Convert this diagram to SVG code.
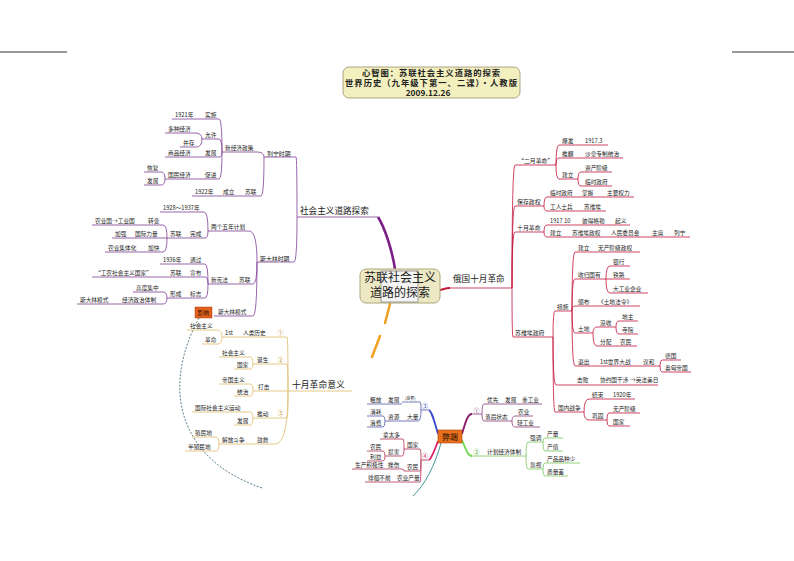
<svg xmlns="http://www.w3.org/2000/svg" width="794" height="561" viewBox="0 0 794 561">
<style>
.t{font-family:"Noto Sans CJK SC","Noto Sans",sans-serif;font-size:5.7px;fill:#222}
.m{font-size:5.9px}
.b{font-size:8.6px}
.n{font-size:6px}
.h{font-size:8.3px;font-weight:bold}
.lp{fill:none;stroke:#7d3f96;stroke-width:.8}
.lr{fill:none;stroke:#c3143c;stroke-width:.8}
.ly{fill:none;stroke:#e3c27a;stroke-width:.9}
.lm{fill:none;stroke:#8c3c7c;stroke-width:.8}
.lg{fill:none;stroke:#78c85a;stroke-width:.8}
.lb{fill:none;stroke:#5058a8;stroke-width:.8}
.ld{fill:none;stroke:#b03050;stroke-width:.8}
</style>
<rect width="794" height="561" fill="#fff"/>
<path d="M0 52H67M732 52H794" stroke="#333" stroke-width="1"/>
<g id="title">
<rect x="343" y="67" width="177" height="31" rx="6" fill="#f3efbe" stroke="#9a9070" stroke-width="0.8"/>
<text class="t h" x="431" y="75.5" text-anchor="middle" textLength="138">心智图：苏联社会主义道路的探索</text>
<text class="t h" x="431" y="85.5" text-anchor="middle" textLength="172">世界历史（九年级下第一、二课）・人教版</text>
<text class="t h" x="428" y="95.5" text-anchor="middle">2009.12.26</text>
</g>
<g id="connectors">
<path d="M395 269C392 250 385 228 378 217" fill="none" stroke="#7b1f86" stroke-width="2.6"/>
<path d="M440 290C444 289 446 288 450 288" fill="none" stroke="#c41e3a" stroke-width="2"/>
<path d="M390 304L385 323M380 336L372 357" fill="none" stroke="#f2a020" stroke-width="2.5" stroke-linecap="round"/>
<path d="M462 434C466 420 468 414 472 414" fill="none" stroke="#8a1a6a" stroke-width="1.8"/>
<path d="M462 440C466 450 468 456 472 456" fill="none" stroke="#6ed64a" stroke-width="1.8"/>
<path d="M438 434C434 420 432 412 429 410" fill="none" stroke="#3a48d0" stroke-width="1.8"/>
<path d="M438 441C434 452 432 458 429 460" fill="none" stroke="#e0206a" stroke-width="1.8"/>
<path d="M441 443C435 465 425 485 413 496" fill="none" stroke="#2a8a8a" stroke-width="0.9"/>
<path d="M199 318C160 390 180 460 262 488" fill="none" stroke="#2f5f6f" stroke-width="0.8" stroke-dasharray="2 1.5"/>
<path class="lp" d="M296 157Q297 157 297 217M294 262Q297 262 297 217M257 152Q264 152 264 157M261 196Q264 196 264 157M219 119Q222 119 222 152M219 139Q222 139 222 152M219 157Q222 157 222 152M219 179Q222 179 222 152M195 133Q202 133 202 139M196 147Q202 147 202 139M161 172Q165 172 165 179M161 185Q165 185 165 179M249 231Q257 231 257 262M204 212Q208 212 208 231M205 238Q208 238 208 231M163 225Q167 225 167 238M163 252Q167 252 167 238M253 284Q257 284 257 262M205 264Q208 264 208 284M205 277Q208 277 208 284M205 298Q208 298 208 284M163 292Q167 292 167 298M163 304Q167 304 167 298M253 316Q257 316 257 262"/>
<path class="ly" d="M287 337Q288 337 288 391M287 364Q288 364 288 391M275 391H288M287 418Q288 418 288 391M275 444Q288 444 288 391M218 330Q222 330 222 337M218 344Q222 344 222 337M250 357Q253 357 253 364M250 369Q253 369 253 364M250 384Q253 384 253 391M250 396Q253 396 253 391M250 412Q253 412 253 418M250 425Q253 425 253 418M216 437Q219 437 219 444M216 451Q219 451 219 444"/>
<path class="lr" d="M515 165Q512 165 512 288M515 206Q512 206 512 288M515 232Q512 232 512 288M513 337Q512 337 512 288M559 145Q556 145 556 165M559 158Q556 158 556 165M559 179Q556 179 556 165M581 172Q578 172 578 179M581 186Q578 186 578 179M547 197Q544 197 544 206M547 211Q544 211 544 206M547 225Q544 225 544 232M547 237Q544 237 544 232M555 311Q553 311 553 337M575 252Q572 252 572 311M575 279Q572 279 572 311M575 306Q572 306 572 311M575 333Q572 333 572 311M575 366Q572 366 572 311M610 266Q606 266 606 279M610 293Q606 293 606 279M597 327Q593 327 593 333M597 346Q593 346 593 333M619 321Q616 321 616 327M619 334Q616 334 616 327M662 360Q660 360 660 366M662 372Q660 372 660 366M556 385Q553 385 553 337M555 412Q553 412 553 337M589 399Q584 399 584 412M589 420Q584 420 584 412M609 413Q607 413 607 420M609 426Q607 426 607 420"/>
<path class="lm" d="M484 404Q482 404 482 414M484 421Q482 421 482 414M515 416Q512 416 512 421M515 427Q512 427 512 421"/>
<path class="lg" d="M528 442Q526 442 526 456M528 469Q526 469 526 456M545 438Q543 438 543 442M545 451Q543 451 543 442M545 463Q543 463 543 469M545 476Q543 476 543 469"/>
<path class="lb" d="M420 402Q421 402 421 410M418 421Q421 421 421 410M383 416Q385 416 385 421M383 427Q385 427 385 421"/>
<path class="ld" d="M420 449Q421 449 421 460M420 471Q421 471 421 460M420 482Q421 482 421 460M403 439Q404 439 404 449M402 456Q404 456 404 449M383 451Q385 451 385 456M383 461Q385 461 385 456M402 469Q404 469 404 471"/>
</g>
<g id="center">
<rect x="360" y="269" width="80" height="34" rx="6" fill="#ece8c4" stroke="#b0a878" stroke-width="1"/>
<rect x="381" y="271" width="37" height="31" fill="#f4f4f4" stroke="#888" stroke-width="0.8"/>
<text class="t" x="400" y="282" text-anchor="middle" style="font-size:12px">苏联社会主义</text>
<text class="t" x="400" y="297" text-anchor="middle" style="font-size:12px">道路的探索</text>
</g>
<g id="n-shehui"><text class="t b" x="300" y="214">社会主义道路探索</text><path class="lp" d="M297 217H378"/></g>
<g id="n-liening"><text class="t m" x="267" y="155.5">列宁时期</text><path class="lp" d="M264 157H296"/></g>
<g id="n-xinjingji"><text class="t" x="225" y="150">新经济政策</text><path class="lp" d="M222 152H257"/></g>
<g id="n-shishi"><text class="t" x="205" y="117">实施</text><path class="lp" d="M202 119H219"/></g>
<g id="n-1921"><text class="t" x="175" y="117">1921年</text><path class="lp" d="M172 119H202"/></g>
<g id="n-yunxu"><text class="t" x="205" y="137">允许</text><path class="lp" d="M202 139H219"/></g>
<g id="n-duozhong"><text class="t" x="168" y="131">多种经济</text><path class="lp" d="M165 133H195"/></g>
<g id="n-bingcun"><text class="t" x="183" y="145">并存</text><path class="lp" d="M180 147H196"/></g>
<g id="n-fazhan1"><text class="t" x="205" y="155">发展</text><path class="lp" d="M202 157H219"/></g>
<g id="n-shangpin"><text class="t" x="168" y="155">商品经济</text><path class="lp" d="M165 157H202"/></g>
<g id="n-cujin"><text class="t" x="205" y="177">促进</text><path class="lp" d="M202 179H219"/></g>
<g id="n-guomin"><text class="t" x="168" y="177">国民经济</text><path class="lp" d="M165 179H202"/></g>
<g id="n-huifu"><text class="t" x="147" y="170">恢复</text><path class="lp" d="M144 172H161"/></g>
<g id="n-fazhan2"><text class="t" x="147" y="183">发展</text><path class="lp" d="M144 185H161"/></g>
<g id="n-sulian1"><text class="t" x="245" y="194">苏联</text><path class="lp" d="M242 196H261"/></g>
<g id="n-chengli"><text class="t" x="223" y="194">成立</text><path class="lp" d="M220 196H242"/></g>
<g id="n-1922"><text class="t" x="195" y="194">1922年</text><path class="lp" d="M192 196H220"/></g>
<g id="n-sidalin"><text class="t m" x="260" y="260.5">斯大林时期</text><path class="lp" d="M257 262H294"/></g>
<g id="n-wunian"><text class="t" x="211" y="229">两个五年计划</text><path class="lp" d="M208 231H249"/></g>
<g id="n-1928"><text class="t" x="163" y="210">1928～1937年</text><path class="lp" d="M160 212H204"/></g>
<g id="n-wancheng"><text class="t" x="190" y="236">完成</text><path class="lp" d="M187 238H205"/></g>
<g id="n-sulian2"><text class="t" x="170" y="236">苏联</text><path class="lp" d="M167 238H187"/></g>
<g id="n-zhuanbian"><text class="t" x="148" y="223">转变</text><path class="lp" d="M145 225H163"/></g>
<g id="n-nongyeguo"><text class="t" x="95" y="223">农业国→工业国</text><path class="lp" d="M92 225H145"/></g>
<g id="n-guoji"><text class="t" x="135" y="236">国际力量</text><path class="lp" d="M132 238H167"/></g>
<g id="n-jiaqiang"><text class="t" x="115" y="236">加强</text><path class="lp" d="M112 238H132"/></g>
<g id="n-jiakuai"><text class="t" x="148" y="250">加快</text><path class="lp" d="M145 252H163"/></g>
<g id="n-jitihua"><text class="t" x="108" y="250">农业集体化</text><path class="lp" d="M105 252H145"/></g>
<g id="n-sulian3"><text class="t" x="239" y="282">苏联</text><path class="lp" d="M236 284H253"/></g>
<g id="n-xianfa"><text class="t" x="211" y="282">新宪法</text><path class="lp" d="M208 284H236"/></g>
<g id="n-tongguo"><text class="t" x="190" y="262">通过</text><path class="lp" d="M187 264H205"/></g>
<g id="n-1936"><text class="t" x="163" y="262">1936年</text><path class="lp" d="M160 264H187"/></g>
<g id="n-xuanbu"><text class="t" x="190" y="275">宣布</text><path class="lp" d="M187 277H205"/></g>
<g id="n-sulian4"><text class="t" x="170" y="275">苏联</text><path class="lp" d="M167 277H187"/></g>
<g id="n-gongnong"><text class="t" x="95" y="275">“工农社会主义国家”</text><path class="lp" d="M92 277H167"/></g>
<g id="n-biaozhi"><text class="t" x="190" y="296">标志</text><path class="lp" d="M187 298H205"/></g>
<g id="n-xingcheng"><text class="t" x="170" y="296">形成</text><path class="lp" d="M167 298H187"/></g>
<g id="n-gaodu"><text class="t" x="136" y="290">高度集中</text><path class="lp" d="M133 292H163"/></g>
<g id="n-tizhi"><text class="t" x="122" y="302">经济政治体制</text><path class="lp" d="M119 304H163"/></g>
<g id="n-moshi1"><text class="t" x="80" y="302">斯大林模式</text><path class="lp" d="M77 304H119"/></g>
<g id="n-moshi2"><text class="t" x="218" y="314">斯大林模式</text><path class="lp" d="M214 316H253"/></g>
<g id="n-yingxiang"><rect x="195" y="307" width="17" height="11" fill="#e0601c" stroke="#b04010" stroke-width="0.5"/><text class="t" x="197.5" y="314.5" style="fill:#2a1000">影响</text></g>
<g id="n-yiyi"><text class="t" x="292" y="388" style="font-size:8.8px">十月革命意义</text><path class="ly" d="M288 391H352"/></g>
<g id="n-renlei"><text class="t" x="243" y="335">人类历史</text><text class="t n" x="277.5" y="335" style="fill:#c89030">①</text><path class="ly" d="M240 337H287"/></g>
<g id="n-1st"><text class="t" x="225" y="335">1st</text><path class="ly" d="M222 337H240"/></g>
<g id="n-shzy1"><text class="t" x="190" y="328">社会主义</text><path class="ly" d="M187 330H218"/></g>
<g id="n-geming"><text class="t" x="205" y="342">革命</text><path class="ly" d="M202 344H218"/></g>
<g id="n-dansheng"><text class="t" x="257" y="362">诞生</text><text class="t n" x="277.5" y="362" style="fill:#c89030">②</text><path class="ly" d="M253 364H287"/></g>
<g id="n-shzy2"><text class="t" x="222" y="355">社会主义</text><path class="ly" d="M219 357H250"/></g>
<g id="n-guojia1"><text class="t" x="237" y="367">国家</text><path class="ly" d="M234 369H250"/></g>
<g id="n-daji"><text class="t" x="258" y="389">打击</text><path class="ly" d="M253 391H275"/></g>
<g id="n-diguo"><text class="t" x="222" y="382">帝国主义</text><path class="ly" d="M219 384H250"/></g>
<g id="n-tongzhi"><text class="t" x="237" y="394">统治</text><path class="ly" d="M234 396H250"/></g>
<g id="n-tuidong"><text class="t" x="257" y="416">推动</text><text class="t n" x="277.5" y="415" style="fill:#c89030">③</text><path class="ly" d="M253 418H287"/></g>
<g id="n-yundong"><text class="t" x="195" y="410">国际社会主义运动</text><path class="ly" d="M192 412H250"/></g>
<g id="n-fazhan3"><text class="t" x="237" y="423">发展</text><path class="ly" d="M234 425H250"/></g>
<g id="n-guwu"><text class="t" x="257" y="442">鼓舞</text><path class="ly" d="M253 444H275"/></g>
<g id="n-jiefang"><text class="t" x="222" y="442">解放斗争</text><path class="ly" d="M219 444H253"/></g>
<g id="n-zhimin"><text class="t" x="195" y="435">殖民地</text><path class="ly" d="M192 437H216"/></g>
<g id="n-banzhimin"><text class="t" x="188" y="449">半殖民地</text><path class="ly" d="M185 451H216"/></g>
<g id="n-eguo"><text class="t b" x="453" y="282">俄国十月革命</text><path class="lr" d="M448 288H512"/></g>
<g id="n-eryue"><text class="t m" x="518" y="163">“二月革命”</text><path class="lr" d="M515 165H556"/></g>
<g id="n-baofa"><text class="t" x="562" y="143">爆发</text><path class="lr" d="M559 145H578"/></g>
<g id="n-19173"><text class="t" x="585" y="143">1917.3</text><path class="lr" d="M578 145H608"/></g>
<g id="n-tuifan"><text class="t" x="562" y="156">推翻</text><path class="lr" d="M559 158H578"/></g>
<g id="n-shahuang"><text class="t" x="585" y="156">沙皇专制统治</text><path class="lr" d="M578 158H623"/></g>
<g id="n-jianli1"><text class="t" x="562" y="177">建立</text><path class="lr" d="M559 179H578"/></g>
<g id="n-zichan"><text class="t" x="585" y="170">资产阶级</text><path class="lr" d="M581 172H612"/></g>
<g id="n-linshi1"><text class="t" x="585" y="184">临时政府</text><path class="lr" d="M581 186H612"/></g>
<g id="n-baocun"><text class="t m" x="517" y="204">保存政权</text><path class="lr" d="M515 206H544"/></g>
<g id="n-linshi2"><text class="t" x="550" y="195">临时政府</text><path class="lr" d="M547 197H576"/></g>
<g id="n-zhangwo"><text class="t" x="582" y="195">掌握</text><path class="lr" d="M576 197H598"/></g>
<g id="n-quanli"><text class="t" x="607" y="195">主要权力</text><path class="lr" d="M598 197H634"/></g>
<g id="n-gongren"><text class="t" x="550" y="209">工人士兵</text><path class="lr" d="M547 211H576"/></g>
<g id="n-suweiai1"><text class="t" x="584" y="209">苏维埃</text><path class="lr" d="M576 211H606"/></g>
<g id="n-shiyue"><text class="t m" x="517" y="230">十月革命</text><path class="lr" d="M515 232H544"/></g>
<g id="n-191710"><text class="t" x="550" y="223">1917.10</text><path class="lr" d="M547 225H576"/></g>
<g id="n-bide"><text class="t" x="582" y="223">彼得格勒</text><path class="lr" d="M576 225H608"/></g>
<g id="n-qiyi"><text class="t" x="615" y="223">起义</text><path class="lr" d="M608 225H630"/></g>
<g id="n-jianli2"><text class="t" x="550" y="235">建立</text><path class="lr" d="M547 237H566"/></g>
<g id="n-zhengquan"><text class="t" x="572" y="235">苏维埃政权</text><path class="lr" d="M566 237H605"/></g>
<g id="n-renmin"><text class="t" x="611" y="235">人民委员会</text><path class="lr" d="M605 237H644"/></g>
<g id="n-zhuxi"><text class="t" x="652" y="235">主席</text><path class="lr" d="M644 237H668"/></g>
<g id="n-liening2"><text class="t" x="674" y="235">列宁</text><path class="lr" d="M668 237H690"/></g>
<g id="n-zhengfu"><text class="t m" x="515" y="335">苏维埃政府</text><path class="lr" d="M513 337H553"/></g>
<g id="n-cuoshi"><text class="t" x="557" y="309">措施</text><path class="lr" d="M555 311H572"/></g>
<g id="n-jianli3"><text class="t" x="578" y="250">建立</text><path class="lr" d="M575 252H596"/></g>
<g id="n-wuchan1"><text class="t" x="598" y="250">无产阶级政权</text><path class="lr" d="M596 252H640"/></g>
<g id="n-shougui"><text class="t" x="578" y="277">收归国有</text><path class="lr" d="M575 279H606"/></g>
<g id="n-yinhang"><text class="t" x="613" y="264">银行</text><path class="lr" d="M610 266H630"/></g>
<g id="n-tielu"><text class="t" x="613" y="277">铁路</text><path class="lr" d="M606 279H630"/></g>
<g id="n-dagongye"><text class="t" x="613" y="291">大工业企业</text><path class="lr" d="M610 293H648"/></g>
<g id="n-banbu"><text class="t" x="578" y="304">颁布</text><path class="lr" d="M575 306H596"/></g>
<g id="n-tudifaling"><text class="t" x="598" y="304">《土地法令》</text><path class="lr" d="M596 306H640"/></g>
<g id="n-tudi"><text class="t" x="578" y="331">土地</text><path class="lr" d="M575 333H593"/></g>
<g id="n-moshou"><text class="t" x="600" y="325">没收</text><path class="lr" d="M597 327H616"/></g>
<g id="n-dizhu"><text class="t" x="622" y="319">地主</text><path class="lr" d="M619 321H638"/></g>
<g id="n-siyuan"><text class="t" x="622" y="332">寺院</text><path class="lr" d="M619 334H638"/></g>
<g id="n-fenpei"><text class="t" x="600" y="344">分配</text><path class="lr" d="M597 346H616"/></g>
<g id="n-nongmin1"><text class="t" x="620" y="344">农民</text><path class="lr" d="M616 346H637"/></g>
<g id="n-tuichu"><text class="t" x="578" y="364">退出</text><path class="lr" d="M575 366H597"/></g>
<g id="n-dazhan"><text class="t" x="600" y="364">1st世界大战</text><path class="lr" d="M597 366H641"/></g>
<g id="n-yihe"><text class="t" x="643" y="364">议和</text><path class="lr" d="M641 366H660"/></g>
<g id="n-deguo"><text class="t" x="665" y="358">德国</text><path class="lr" d="M662 360H681"/></g>
<g id="n-aoxiong"><text class="t" x="665" y="370">奥匈帝国</text><path class="lr" d="M662 372H691"/></g>
<g id="n-jibai"><text class="t" x="577" y="382">击败</text><path class="lr" d="M556 385H597"/></g>
<g id="n-xieyue"><text class="t" x="600" y="382">协约国干涉</text><path class="lr" d="M597 385H630"/></g>
<g id="n-ying"><text class="t" x="630" y="382">→英法美日</text><path class="lr" d="M630 385H658"/></g>
<g id="n-neizhan"><text class="t" x="558" y="410">国内战争</text><path class="lr" d="M555 412H584"/></g>
<g id="n-jieshu"><text class="t" x="592" y="397">结束</text><path class="lr" d="M589 399H609"/></g>
<g id="n-1920"><text class="t" x="613" y="397">1920年</text><path class="lr" d="M609 399H635"/></g>
<g id="n-gonggu"><text class="t" x="592" y="418">巩固</text><path class="lr" d="M589 420H607"/></g>
<g id="n-wuchan2"><text class="t" x="613" y="411">无产阶级</text><path class="lr" d="M609 413H640"/></g>
<g id="n-guojia2"><text class="t" x="613" y="424">国家</text><path class="lr" d="M609 426H630"/></g>
<g id="n-biduan"><rect x="438" y="430" width="24" height="13" fill="#e8701e" stroke="#b04000" stroke-width="0.6"/><text class="t" x="450" y="439.8" text-anchor="middle" style="font-size:8px;fill:#2a1000">弊端</text></g>
<g id="n-b1"><text class="t n" x="473.5" y="413" style="fill:#8a3a7a">①</text><path class="lm" d="M472 414H482"/></g>
<g id="n-youxian"><text class="t" x="487" y="402">优先</text><path class="lm" d="M484 404H501"/></g>
<g id="n-fazhan4"><text class="t" x="505" y="402">发展</text><path class="lm" d="M501 404H519"/></g>
<g id="n-zhonggongye"><text class="t" x="522" y="402">重工业</text><path class="lm" d="M519 404H542"/></g>
<g id="n-luohou"><text class="t" x="485" y="419">落后状态</text><path class="lm" d="M484 421H512"/></g>
<g id="n-nongye"><text class="t" x="518" y="414">农业</text><path class="lm" d="M515 416H533"/></g>
<g id="n-qinggongye"><text class="t" x="517" y="425">轻工业</text><path class="lm" d="M515 427H540"/></g>
<g id="n-b2"><text class="t n" x="473.5" y="454" style="fill:#50a030">②</text><path class="lg" d="M472 456H526"/><text class="t" x="487" y="454">计划经济体制</text></g>
<g id="n-qiangdiao"><text class="t" x="530" y="440">强调</text><path class="lg" d="M528 442H543"/></g>
<g id="n-chanliang"><text class="t" x="547" y="436">产量</text><path class="lg" d="M545 438H563"/></g>
<g id="n-chanzhi"><text class="t" x="547" y="449">产值</text><path class="lg" d="M545 451H563"/></g>
<g id="n-hushi"><text class="t" x="530" y="467">忽视</text><path class="lg" d="M528 469H543"/></g>
<g id="n-pinzhong"><text class="t" x="547" y="461">产品品种少</text><path class="lg" d="M545 463H580"/></g>
<g id="n-zhiliang"><text class="t" x="547" y="474">质量差</text><path class="lg" d="M545 476H568"/></g>
<g id="n-b3"><text class="t n" x="422" y="408" style="fill:#4050c0">③</text><path class="lb" d="M421 410H429"/></g>
<g id="n-langfei1"><text class="t" x="405" y="400" style="font-size:4px">(浪费)</text><path class="lb" d="M402 402H420"/></g>
<g id="n-fazhan5"><text class="t" x="388" y="402">发展</text><path class="lb" d="M385 404H402"/></g>
<g id="n-cufang"><text class="t" x="370" y="402">粗放</text><path class="lb" d="M367 404H385"/></g>
<g id="n-daliang"><text class="t" x="407" y="419">大量</text><path class="lb" d="M404 421H418"/></g>
<g id="n-ziyuan"><text class="t" x="388" y="419">资源</text><path class="lb" d="M385 421H404"/></g>
<g id="n-xiaohao"><text class="t" x="370" y="414">消耗</text><path class="lb" d="M367 416H383"/></g>
<g id="n-langfei2"><text class="t" x="370" y="425">浪费</text><path class="lb" d="M367 427H383"/></g>
<g id="n-b4"><text class="t n" x="422" y="458" style="fill:#d02060">④</text><path class="ld" d="M421 460H429"/></g>
<g id="n-guojia3"><text class="t" x="407" y="447">国家</text><path class="ld" d="M404 449H420"/></g>
<g id="n-natai"><text class="t" x="383" y="437">拿太多</text><path class="ld" d="M380 439H403"/></g>
<g id="n-sunhai"><text class="t" x="388" y="454">损害</text><path class="ld" d="M385 456H402"/></g>
<g id="n-nongmin2"><text class="t" x="370" y="449">农民</text><path class="ld" d="M367 451H383"/></g>
<g id="n-liyi"><text class="t" x="370" y="459">利益</text><path class="ld" d="M367 461H383"/></g>
<g id="n-nongmin3"><text class="t" x="407" y="469">农民</text><path class="ld" d="M404 471H420"/></g>
<g id="n-cuoshang"><text class="t" x="388" y="467">挫伤</text><path class="ld" d="M385 469H402"/></g>
<g id="n-jijixing"><text class="t" x="355" y="467">生产积极性</text><path class="ld" d="M352 469H385"/></g>
<g id="n-chanliang2"><text class="t" x="397" y="480">农业产量</text><path class="ld" d="M395 482H420"/></g>
<g id="n-paihuai"><text class="t" x="368" y="480">徘徊不前</text><path class="ld" d="M365 482H395"/></g>
</svg>
